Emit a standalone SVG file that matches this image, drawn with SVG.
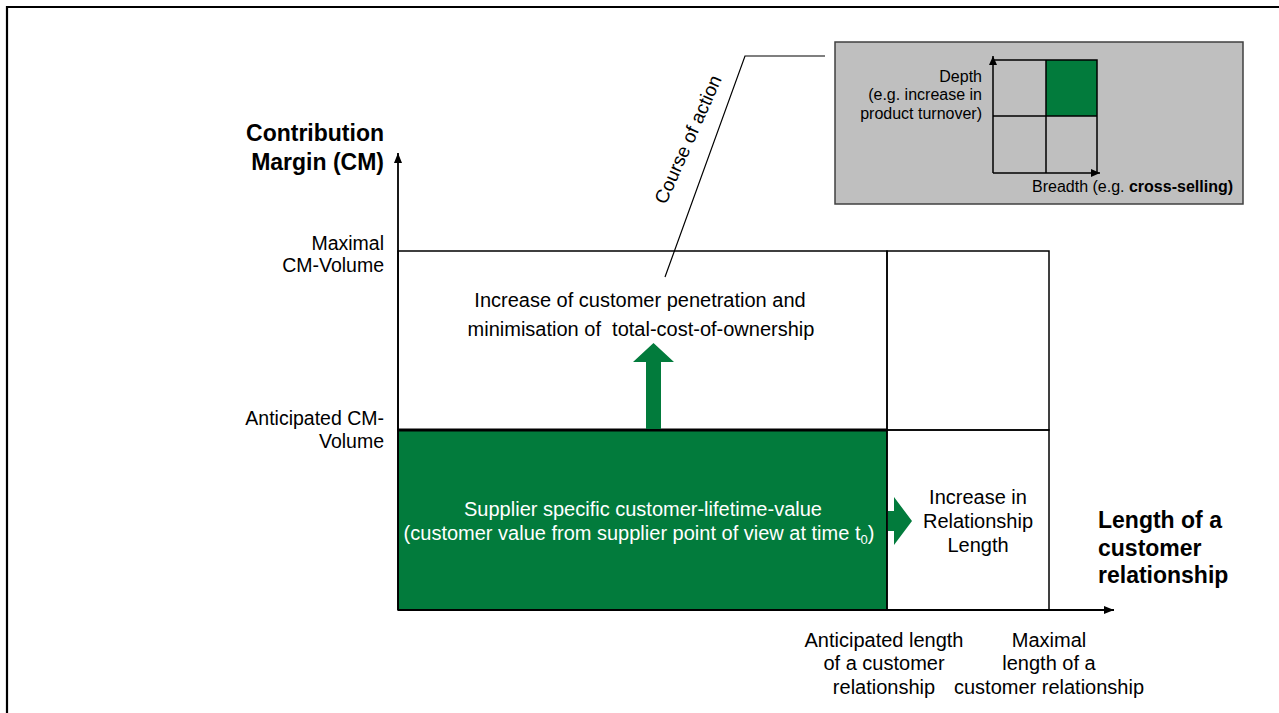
<svg xmlns="http://www.w3.org/2000/svg" width="1279" height="713" viewBox="0 0 1279 713">
  <defs>
    <style>
      text { font-family: "Liberation Sans", Arial, sans-serif; fill: #000; }
      .axis { font-size: 23px; font-weight: bold; }
      .lbl { font-size: 19.5px; }
      .coa { font-size: 19px; }
      .body { font-size: 20px; }
      .small { font-size: 16px; }
      .white { fill: #fff; }
      .ln { stroke: #000; stroke-width: 1.5; fill: none; }
      .green { fill: #027B3C; }
    </style>
    <marker id="tip" viewBox="0 0 10 8" refX="10" refY="4" markerWidth="10" markerHeight="8" markerUnits="userSpaceOnUse" orient="auto">
      <path d="M0,0 L10,4 L0,8 Z" fill="#000"/>
    </marker>
    <marker id="tipS" viewBox="0 0 9 8" refX="9" refY="4" markerWidth="9" markerHeight="8" markerUnits="userSpaceOnUse" orient="auto">
      <path d="M0,0 L9,4 L0,8 Z" fill="#000"/>
    </marker>
  </defs>

  <rect x="0" y="0" width="1279" height="713" fill="#fff"/>

  <!-- page frame -->
  <path d="M7,713 V7 H1279" stroke="#000" stroke-width="2.2" fill="none"/>

  <!-- chart fields -->
  <g id="field-top">
    <rect x="398" y="251" width="489" height="179" fill="#fff" class="ln"/>
    <text class="body" x="640" y="307" text-anchor="middle">Increase of customer penetration and</text>
    <text class="body" x="641" y="336" text-anchor="middle">minimisation of&#160; total-cost-of-ownership</text>
  </g>
  <g id="field-top-right">
    <rect x="887" y="251" width="162" height="179" fill="#fff" class="ln"/>
  </g>
  <g id="field-clv">
    <rect x="398" y="430" width="489" height="180" class="green" stroke="#000" stroke-width="1.5"/>
    <text class="body white" x="643" y="516" text-anchor="middle">Supplier specific customer-lifetime-value</text>
    <text class="body white" x="639" y="540" text-anchor="middle">(customer value from supplier point of view at time t<tspan font-size="13" dy="4">0</tspan><tspan dy="-4">)</tspan></text>
  </g>
  <g id="field-length">
    <rect x="887" y="430" width="162" height="180" fill="#fff" class="ln"/>
    <text class="body" x="978" y="504" text-anchor="middle">Increase in</text>
    <text class="body" x="978" y="528" text-anchor="middle">Relationship</text>
    <text class="body" x="978" y="552" text-anchor="middle">Length</text>
  </g>

  <!-- connectors: axes, growth arrows, callout -->
  <g id="connectors">
    <line x1="398" y1="430" x2="887" y2="430" stroke="#000" stroke-width="3"/>
    <line x1="398" y1="610" x2="398" y2="153" stroke="#000" stroke-width="1.8" marker-end="url(#tip)"/>
    <line x1="398" y1="610" x2="1114" y2="610" stroke="#000" stroke-width="1.8" marker-end="url(#tip)"/>
    <polygon class="green" points="646,429 646,362 633,362 653.5,343 674,362 661,362 661,429"/>
    <polygon class="green" points="888,511 894,511 894,497 912,521 894,545 894,531 888,531"/>
    <polyline points="665,277 745,56 825,56" fill="none" stroke="#000" stroke-width="1.2"/>
    <text class="coa" transform="translate(694,142) rotate(-66)" text-anchor="middle">Course of action</text>
  </g>

  <!-- axis labels -->
  <g id="y-axis-label">
    <text class="axis" x="384" y="141" text-anchor="end">Contribution</text>
    <text class="axis" x="384" y="170" text-anchor="end">Margin (CM)</text>
  </g>
  <g id="y-max">
    <text class="lbl" x="384" y="250" text-anchor="end">Maximal</text>
    <text class="lbl" x="384" y="272" text-anchor="end">CM-Volume</text>
  </g>
  <g id="y-anticipated">
    <text class="lbl" x="384" y="425" text-anchor="end">Anticipated CM-</text>
    <text class="lbl" x="384" y="448" text-anchor="end">Volume</text>
  </g>
  <g id="x-axis-label">
    <text class="axis" x="1098" y="528">Length of a</text>
    <text class="axis" x="1098" y="556">customer</text>
    <text class="axis" x="1098" y="583">relationship</text>
  </g>
  <g id="x-anticipated">
    <text class="body" x="884" y="647" text-anchor="middle">Anticipated length</text>
    <text class="body" x="884" y="670" text-anchor="middle">of a customer</text>
    <text class="body" x="884" y="694" text-anchor="middle">relationship</text>
  </g>
  <g id="x-max">
    <text class="body" x="1049" y="647" text-anchor="middle">Maximal</text>
    <text class="body" x="1049" y="670" text-anchor="middle">length of a</text>
    <text class="body" x="1049" y="694" text-anchor="middle">customer relationship</text>
  </g>

  <!-- course-of-action inset: depth / breadth matrix -->
  <g id="inset">
    <rect x="835" y="42" width="408" height="162" fill="#BFBFBF" stroke="#404040" stroke-width="1.5"/>
    <rect x="1046" y="60" width="51" height="56" class="green"/>
    <path class="ln" d="M993,60 H1097 V173 M1046,60 V173 M993,116 H1097"/>
    <line x1="993" y1="173" x2="993" y2="56" stroke="#000" stroke-width="1.5" marker-end="url(#tipS)"/>
    <line x1="993" y1="173" x2="1100" y2="173" stroke="#000" stroke-width="1.5" marker-end="url(#tipS)"/>
    <text class="small" x="982" y="82" text-anchor="end">Depth</text>
    <text class="small" x="982" y="100" text-anchor="end">(e.g. increase in</text>
    <text class="small" x="982" y="119" text-anchor="end">product turnover)</text>
    <text class="small" x="1233" y="192" text-anchor="end">Breadth (e.g. <tspan font-weight="bold">cross-selling)</tspan></text>
  </g>
</svg>
